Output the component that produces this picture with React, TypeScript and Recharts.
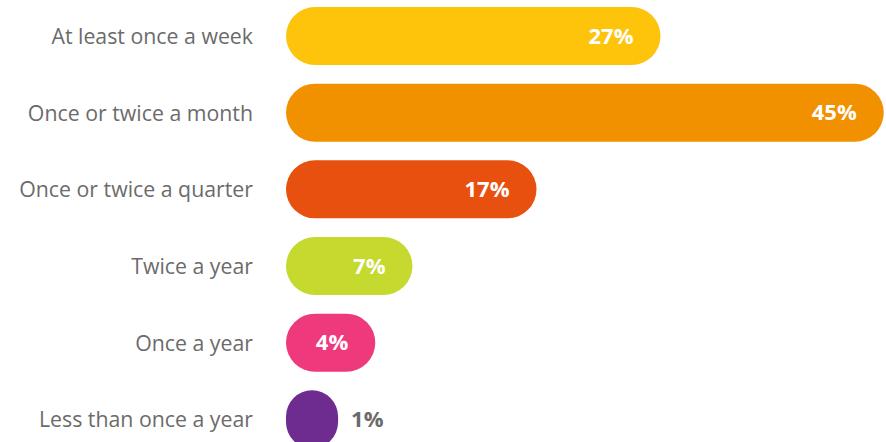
import React from "react";
import { BarChart, Bar, XAxis, YAxis, LabelList, Cell } from "recharts";

const categories = [
  "At least once a week",
  "Once or twice a month",
  "Once or twice a quarter",
  "Twice a year",
  "Once a year",
  "Less than once a year",
];
const values = [27, 45, 17, 7, 4, 1];
const colors = ["#fdc40b", "#f29100", "#e8500f", "#c5d92e", "#ee3a7d", "#6e2c91"];

// bars start a little before zero so the rounded cap has room
const AXIS_MIN = -3.2;
const AXIS_MAX = 45.1;

const data = categories.map((label, i) => ({ label, value: values[i], color: colors[i] }));

const font = "'Open Sans', sans-serif";

const ValueLabel = (props: any) => {
  const { x, y, width, height, value } = props;
  const cy = y + height / 2;
  const small = value <= 1;
  return (
    <text
      x={small ? x + width + 13 : x + width - 27}
      y={cy}
      dy="0.35em"
      textAnchor={small ? "start" : "end"}
      fill={small ? "#6b6b6b" : "#ffffff"}
      fontFamily={font}
      fontWeight={700}
      fontSize={22}
    >
      {value}%
    </text>
  );
};

export default function App() {
  return (
    <div style={{ position: "absolute", left: 0, top: 0, width: 886, height: 442, overflow: "hidden", background: "#fff" }}>
      <div style={{ marginTop: -2 }}>
        <BarChart
          layout="vertical"
          width={886}
          height={460}
          data={data}
          margin={{ top: 0, right: 1, left: 0, bottom: 0 }}
        >
          <XAxis type="number" domain={[AXIS_MIN, AXIS_MAX]} allowDataOverflow hide />
          <YAxis
            type="category"
            dataKey="label"
            width={286}
            axisLine={false}
            tickLine={false}
            tickSize={0}
            tickMargin={33}
            tick={{ fill: "#6b6b6b", fontSize: 21.3, fontFamily: font }}
          />
          <Bar
            dataKey={(d: any) => [AXIS_MIN, d.value]}
            barSize={58}
            radius={29}
            isAnimationActive={false}
          >
            {data.map((d, i) => (
              <Cell key={i} fill={d.color} />
            ))}
            <LabelList dataKey="value" content={ValueLabel} />
          </Bar>
        </BarChart>
      </div>
    </div>
  );
}
